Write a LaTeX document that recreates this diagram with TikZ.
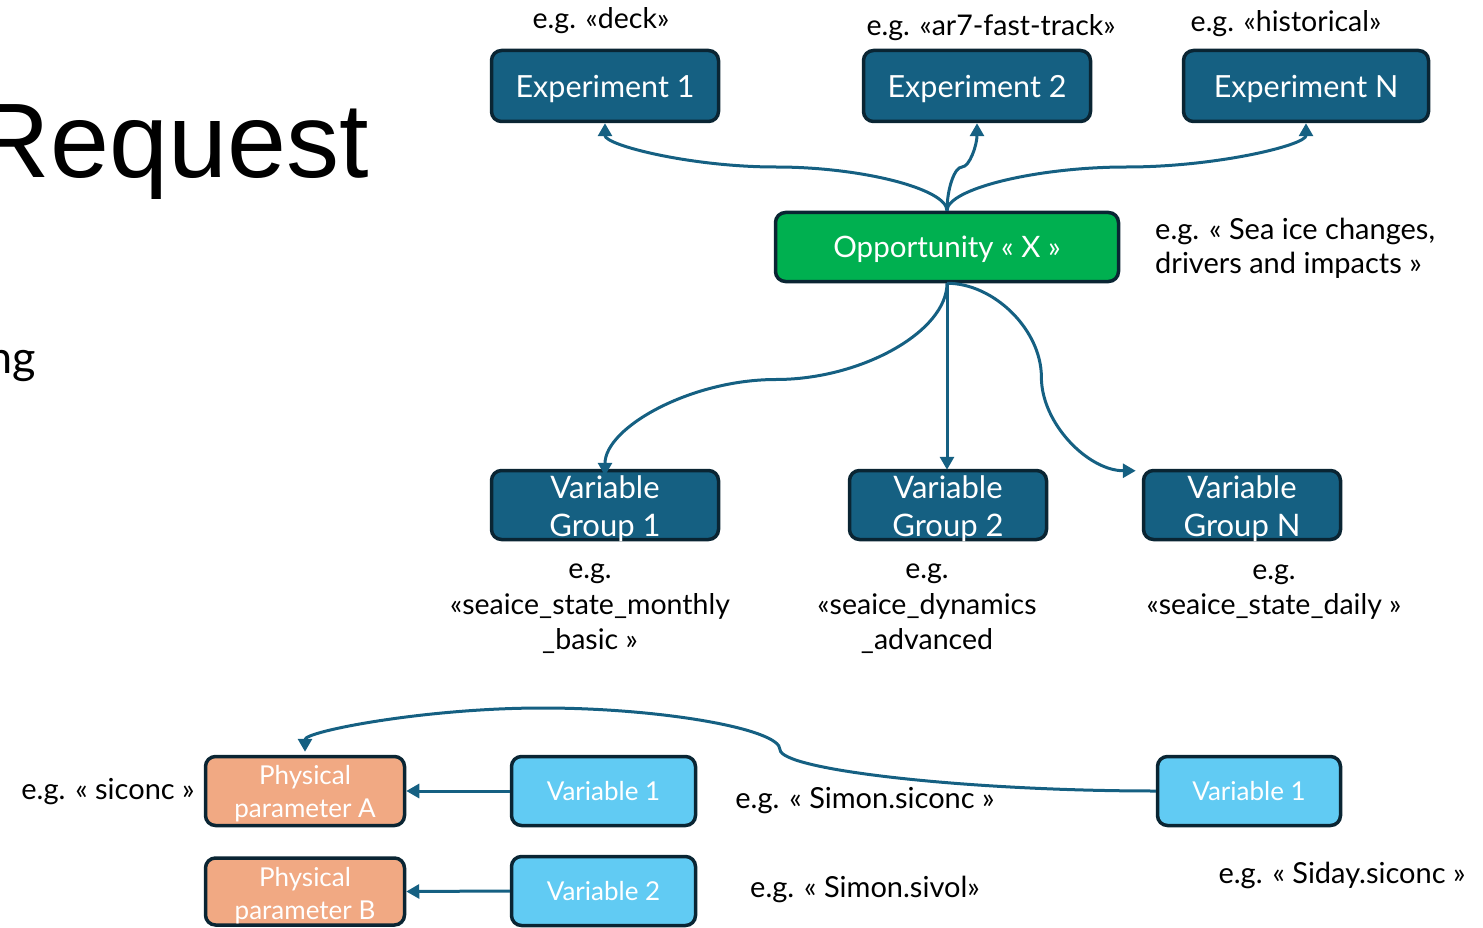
\documentclass[tikz,border=0pt]{standalone}
\usepackage{fontspec}
\setmainfont{Lato}
\newfontfamily\titlefont{Liberation Sans}
\usetikzlibrary{arrows.meta,calc}

\definecolor{boxblue}{HTML}{156082}
\definecolor{edgedark}{HTML}{0A2533}
\definecolor{oppgreen}{HTML}{00B050}
\definecolor{varcyan}{HTML}{61CBF3}
\definecolor{physorange}{HTML}{F1A983}

% two centred lines; the optional argument lowers them inside their box
\newcommand{\twolines}[3][0pt]{\raisebox{#1}[0pt][0pt]{\begin{tabular}{@{}c@{}}#2\\#3\end{tabular}}}

\begin{document}
\begin{tikzpicture}[x=1pt,y=-1pt,
  box/.style={draw=edgedark, line width=3.5pt, rounded corners=10pt,
    text=white, inner sep=0pt, align=center},
  % baseline 11.5pt below the centre of the box
  expbox/.style={box, fill=boxblue, minimum height=71pt,
    text height=23pt, text depth=0pt, font=\fontsize{30.5}{36}\selectfont},
  grpbox/.style={box, fill=boxblue, minimum height=69pt,
    font=\fontsize{31}{38}\selectfont},
  oppbox/.style={box, fill=oppgreen, minimum width=343pt, minimum height=69pt,
    text height=22pt, text depth=0pt, font=\fontsize{29.5}{34}\selectfont},
  varbox/.style={box, fill=varcyan, minimum width=184pt, minimum height=69pt,
    text height=18pt, text depth=0pt, font=\fontsize{26}{32}\selectfont},
  physbox/.style={box, fill=physorange, minimum width=199pt,
    font=\fontsize{26}{33}\selectfont},
  lbl/.style={inner sep=0pt, align=center, font=\fontsize{28.5}{35.5}\selectfont},
  nlbl/.style={inner sep=0pt, align=left, font=\fontsize{29}{34}\selectfont},
  conn/.style={draw=boxblue, line width=3pt, -{Triangle[length=13pt,width=14pt]}},
  % S-shaped connector: vertical at both ends, horizontal half way
  vcurve/.style={to path={let \p1=(\tikztostart), \p2=(\tikztotarget) in
    .. controls +(0pt,{0.25*(\y2-\y1)}) and +({-0.25*(\x2-\x1)},0pt)
    .. ({0.5*(\x1+\x2)},{0.5*(\y1+\y2)})
    .. controls +({0.25*(\x2-\x1)},0pt) and +(0pt,{-0.25*(\y2-\y1)})
    .. (\tikztotarget) \tikztonodes}},
  % S-shaped connector: horizontal at both ends, vertical half way
  hcurve/.style={to path={let \p1=(\tikztostart), \p2=(\tikztotarget) in
    .. controls +({0.25*(\x2-\x1)},0pt) and +(0pt,{-0.25*(\y2-\y1)})
    .. ({0.5*(\x1+\x2)},{0.5*(\y1+\y2)})
    .. controls +(0pt,{0.25*(\y2-\y1)}) and +({-0.25*(\x2-\x1)},0pt)
    .. (\tikztotarget) \tikztonodes}}
]
\useasboundingbox (0,0) rectangle (1483,928);

% slide title and body text running in from the left
\node[inner sep=0pt, anchor=base east, font=\titlefont\fontsize{106}{110}\selectfont]
  (title) at (369,178) {Request};
\node[inner sep=0pt, anchor=base east, font=\fontsize{45}{50}\selectfont]
  (body) at (36,373) {ng};

% experiments
\node[expbox, minimum width=227pt] (exp1) at (605,86) {Experiment 1};
\node[expbox, minimum width=227pt] (exp2) at (977,86) {Experiment 2};
\node[expbox, minimum width=245pt] (expn) at (1306,86) {Experiment N};
\node[lbl] (lexp1) at (601,21) {e.g. «deck»};
\node[lbl] (lexp2) at (991,28) {e.g. «ar7-fast-track»};
\node[lbl] (lexpn) at (1286,24) {e.g. «historical»};

% opportunity
\node[oppbox] (opp) at (947,247) {Opportunity «~X~»};
\node[nlbl, anchor=west] (lopp) at (1155,248) {e.g. «~Sea ice changes,\\drivers and impacts~»};

% variable groups
\node[grpbox, minimum width=227pt] (vg1) at (605,505) {\twolines[-11.5pt]{Variable}{Group 1}};
\node[grpbox, minimum width=197pt] (vg2) at (948,505) {\twolines[-11.5pt]{Variable}{Group 2}};
\node[grpbox, minimum width=197pt] (vgn) at (1242,505) {\twolines[-11.5pt]{Variable}{Group N}};
\node[lbl] (lvg1) at (590,609) {e.g.\\«seaice\_state\_monthly\\\_basic~»};
\node[lbl] (lvg2) at (927,609) {e.g.\\«seaice\_dynamics\\\_advanced};
\node[lbl] (lvgn) at (1274,592) {e.g.\\«seaice\_state\_daily~»};

% physical parameters and variables
\node[physbox, minimum height=69pt] (pa) at (305,791) {\twolines[-9.5pt]{Physical}{parameter A}};
\node[physbox, minimum height=67pt] (pb) at (305,891.5) {\twolines[-11pt]{Physical}{parameter B}};
\node[varbox] (v1) at (603.5,791) {Variable 1};
\node[varbox] (v2) at (603.5,891) {Variable 2};
\node[varbox, minimum width=183pt] (v1d) at (1249,791) {Variable 1};
\node[nlbl] (lpa) at (108,792) {e.g. «~siconc~»};
\node[nlbl] (lv1) at (865,801) {e.g. «~Simon.siconc~»};
\node[nlbl] (lv2) at (865,889) {e.g. «~Simon.sivol»};
\node[nlbl] (lv1d) at (1342,875) {e.g. «~Siday.siconc~»};

% connectors
\draw[conn] (opp.north) to[vcurve] (exp1.south);
\draw[conn] (opp.north) to[vcurve] (exp2.south);
\draw[conn] (opp.north) to[vcurve] (expn.south);
\draw[conn] (opp.south) to[vcurve] ([yshift=-7pt]vg1.north);
\draw[conn] (opp.south) -- ([yshift=-1pt]opp.south |- vg2.north);
\draw[conn] (opp.south) to[hcurve] ([xshift=-6pt,yshift=-2pt]vgn.north west);
\draw[conn] (v1.west) -- (pa.east);
\draw[conn] (v2.west) -- (pb.east);
\draw[conn] (v1d.west) .. controls (968,791) and (780,770) .. (780,749.5)
  .. controls (780,729) and (661,708) .. (542.5,708)
  .. controls (424,708) and (305,731.5) .. ([yshift=3pt]pa.north);
\end{tikzpicture}
\end{document}
